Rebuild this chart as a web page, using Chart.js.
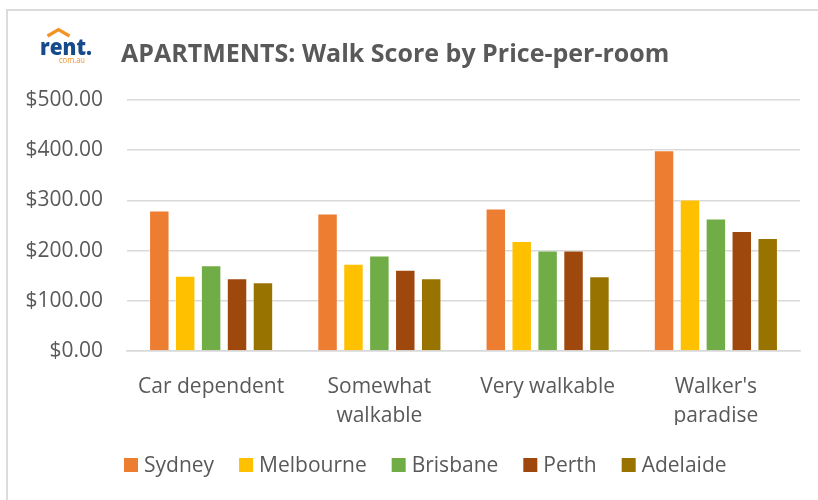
<!DOCTYPE html>
<html><head><meta charset="utf-8">
<script src="https://cdn.jsdelivr.net/npm/chart.js@4"></script>
<style>
html,body{margin:0;padding:0;background:#fff;}
#wrap{position:relative;width:818px;height:500px;overflow:hidden;background:#fff;}
#frame{position:absolute;left:6px;top:9px;width:860px;height:540px;border:2px solid #dcdcdc;box-sizing:border-box;}
canvas{position:absolute;left:0;top:0;}
</style></head><body>
<div id="wrap"><div id="frame"></div><canvas id="c" width="818" height="500"></canvas></div>
<script>
const categories = ["Car dependent", ["Somewhat", "walkable"], "Very walkable", ["Walker's", "paradise"]];
const cities = ["Sydney", "Melbourne", "Brisbane", "Perth", "Adelaide"];
const sydney = [280, 274, 284, 400];
const melbourne = [150, 174, 219, 302];
const brisbane = [171, 190, 200, 264];
const perth = [145, 162, 200, 239];
const adelaide = [137, 145, 149, 225];
const colors = ["#ED7D31", "#FFC000", "#70AD47", "#9E480E", "#997300"];
const yMin = 0, yMax = 500, yStep = 100;
const titleText = "APARTMENTS: Walk Score by Price-per-room";

const FONT = "'Open Sans', sans-serif";
const TXT = "#595959";
const seriesValues = [sydney, melbourne, brisbane, perth, adelaide];

const decor = {
  id: 'decor',
  afterDraw(chart) {
    const ctx = chart.ctx;
    ctx.save();
    // Title
    ctx.fillStyle = TXT;
    ctx.font = "bold 25px " + FONT;
    ctx.textBaseline = 'alphabetic';
    ctx.textAlign = 'left';
    ctx.fillText(titleText, 121, 62);
    // Logo roof
    ctx.strokeStyle = "#F39323";
    ctx.lineWidth = 3.2;
    ctx.lineJoin = 'miter';
    ctx.beginPath();
    ctx.moveTo(47.5, 36); ctx.lineTo(58.5, 29.5); ctx.lineTo(69.5, 36);
    ctx.stroke();
    // Logo text
    ctx.fillStyle = "#174A8B";
    ctx.font = "800 22px " + FONT;
    let w = ctx.measureText("rent.").width;
    ctx.save();
    ctx.translate(40, 55);
    ctx.scale(52 / w, 1);
    ctx.fillText("rent.", 0, 0);
    ctx.restore();
    ctx.fillStyle = "#F39323";
    ctx.font = "9px " + FONT;
    w = ctx.measureText("com.au").width;
    ctx.save();
    ctx.translate(59, 62.5);
    ctx.scale(26 / w, 1);
    ctx.fillText("com.au", 0, 0);
    ctx.restore();
    // Legend
    ctx.font = "21px " + FONT;
    ctx.textBaseline = 'middle';
    let x = 124;
    const yc = 465;
    chart.data.datasets.forEach(ds => {
      ctx.fillStyle = ds.backgroundColor;
      ctx.fillRect(x, yc - 7, 14, 14);
      x += 14 + 6;
      ctx.fillStyle = TXT;
      ctx.fillText(ds.label, x, yc + 1);
      x += ctx.measureText(ds.label).width + 25;
    });
    ctx.restore();
  }
};

new Chart(document.getElementById('c'), {
  type: 'bar',
  data: {
    labels: categories,
    datasets: cities.map((c, i) => ({
      label: c,
      data: seriesValues[i],
      backgroundColor: colors[i],
      borderColor: 'rgba(255,255,255,0.4)',
      borderWidth: 1,
      categoryPercentage: 0.77,
      barPercentage: 0.79
    }))
  },
  options: {
    responsive: false,
    animation: false,
    devicePixelRatio: 1,
    layout: { padding: { top: 100, right: 18, bottom: 75, left: 0 } },
    plugins: { legend: { display: false }, title: { display: false }, tooltip: { enabled: false } },
    scales: {
      x: {
        grid: { display: false },
        border: { color: '#d9d9d9', width: 1.5 },
        ticks: { color: TXT, font: { family: FONT, size: 21, lineHeight: 1.36 }, padding: 14, maxRotation: 0, autoSkip: false },
        afterFit(s) { s.height = 74; }
      },
      y: {
        min: yMin, max: yMax,
        grid: { color: '#d9d9d9', lineWidth: 1.5, drawTicks: false },
        border: { display: false },
        ticks: {
          stepSize: yStep, color: TXT, padding: 24,
          font: { family: FONT, size: 21 },
          callback: v => '$' + Number(v).toFixed(2)
        },
        afterFit(s) { s.width = 127; }
      }
    }
  },
  plugins: [decor]
});
</script>
</body></html>
